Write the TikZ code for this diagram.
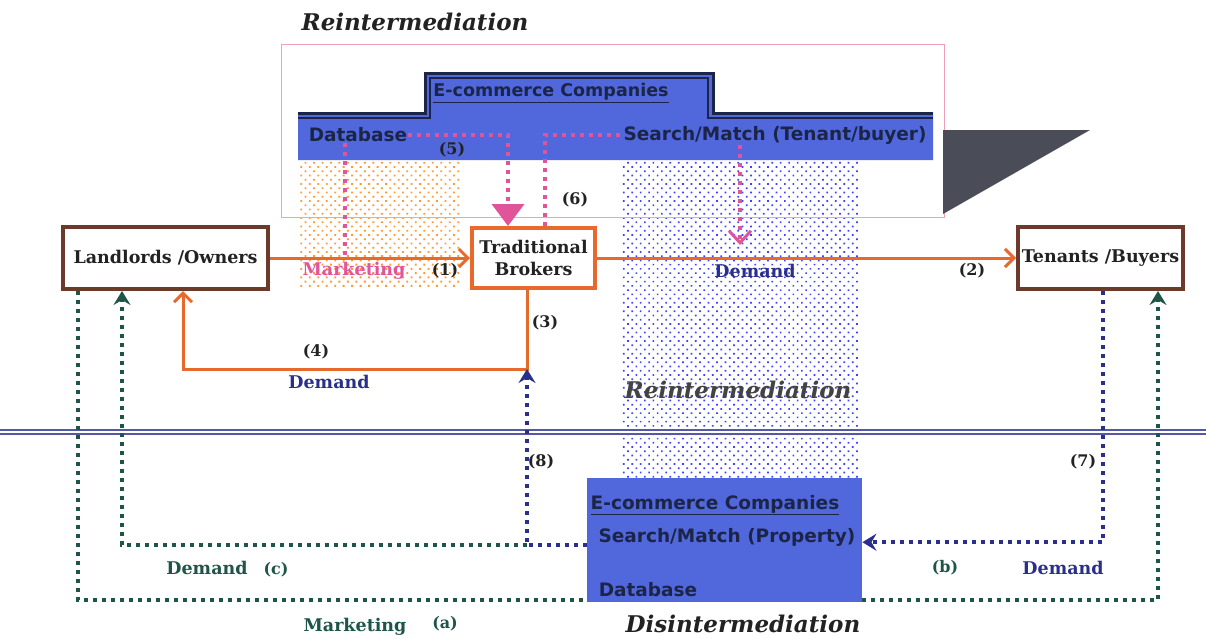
\documentclass[tikz,border=0pt]{standalone}
\usepackage{fontspec}
\setmainfont{DejaVu Serif}
\newfontfamily\ecfont{DejaVu Sans}
\usetikzlibrary{arrows.meta,patterns.meta}
\definecolor{orangeA}{HTML}{E8692C}
\definecolor{brownA}{HTML}{6B3A2A}
\definecolor{pinkA}{HTML}{E0559A}
\definecolor{navyA}{HTML}{2B2F8C}
\definecolor{greenA}{HTML}{1E5548}
\definecolor{blueA}{HTML}{5068DC}
\definecolor{darkA}{HTML}{1C2548}
\definecolor{shadowA}{HTML}{4A4D58}
\definecolor{pinkline}{HTML}{F4A0B4}
\definecolor{textA}{HTML}{222222}
\tikzset{
  box/.style={draw, line width=4pt, fill=white, align=center, inner sep=1pt,
    font=\fontsize{17.5}{22}\selectfont\bfseries, text=textA},
  lbl/.style={font=\fontsize{16}{18}\selectfont\bfseries, text=textA, inner sep=1pt},
  wlbl/.style={font=\fontsize{17.5}{19}\selectfont\bfseries, inner sep=1pt},
  eclbl/.style={font=\ecfont\fontsize{18.5}{20}\selectfont\bfseries, text=darkA, inner sep=1pt},
  ttl/.style={font=\fontsize{23}{26}\selectfont\bfseries\itshape, text=textA, inner sep=1pt},
  oline/.style={draw=orangeA, line width=3pt},
  otip/.style={-{Straight Barb[length=9pt,width=18pt,line width=3pt]}},
  pdot/.style={draw=pinkA, line width=4pt, dash pattern=on 4pt off 5pt},
  ndot/.style={draw=navyA, line width=4pt, dash pattern=on 4pt off 5pt},
  gdot/.style={draw=greenA, line width=4pt, dash pattern=on 4pt off 5pt},
  ntip/.style={-{Stealth[length=14pt,width=17pt,inset=5pt]}},
}
\begin{document}
\begin{tikzpicture}[x=1pt,y=-1pt]
\fill[white] (0,0) rectangle (1206,638);
\useasboundingbox (0,0) rectangle (1206,638);
% dotted regions
\fill[pattern={Dots[distance=6pt,radius=1.3pt,angle=45]}, pattern color=orange!80] (298,160) rectangle (461,287);
\fill[pattern={Dots[distance=6pt,radius=1.2pt,angle=45]}, pattern color=blue!75] (621,160) rectangle (860,478);
% pink frame and shadow
\draw[pinkline, line width=1pt] (281,44) rectangle (944,217);
\fill[shadowA] (943,130) -- (1090,130) -- (943,214) -- cycle;
% upper e-commerce shape
\fill[blueA] (298,113) -- (425,113) -- (425,73) -- (713,73) -- (713,113) -- (933,113) -- (933,160) -- (298,160) -- cycle;
\draw[darkA, line width=3pt] (298,113) -- (425,113) -- (425,73) -- (713,73) -- (713,113) -- (933,113);
\draw[darkA, line width=1.2pt] (298,118) -- (430,118) -- (430,78) -- (708,78) -- (708,118) -- (933,118);
\node[eclbl, font=\ecfont\fontsize{17.5}{20}\selectfont\bfseries] (ec1) at (551,93) {\underline{E-commerce Companies}};
\node[eclbl] (db1) at (358,135) {Database};
\node[eclbl] (sm1) at (775,135) {Search/Match (Tenant/buyer)};
% main boxes
\node[box, draw=brownA, minimum width=205pt, minimum height=62pt] (lo) at (165.5,258) {Landlords /Owners};
\node[box, draw=orangeA, minimum width=123pt, minimum height=60pt] (tb) at (533.5,258) {Traditional\\Brokers};
\node[box, draw=brownA, minimum width=165pt, minimum height=62pt] (tt) at (1100.5,258) {Tenants /Buyers};
% lower e-commerce box
\node[fill=blueA, minimum width=275pt, minimum height=124pt, anchor=north west, inner sep=0pt] (ecb) at (587,478) {};
\node[eclbl] (ec2) at (715,505) {\underline{E-commerce Companies}};
\node[eclbl] (sm2) at (727,537) {Search/Match (Property)};
\node[eclbl] (db2) at (648,590) {Database};
% double separator
\draw[navyA!80, line width=1.3pt] (0,430) -- (1206,430) (0,434) -- (1206,434);
% orange flows
\draw[oline, otip] (lo.east) -- (tb.west);
\draw[oline, otip] (tb.east) -- (tt.west);
\draw[oline, otip] ([xshift=-6.5pt]tb.south) -- ++(0,79) coordinate (c34) -| ([xshift=17.5pt]lo.south);
% pink dotted flows
\coordinate (m1) at (345,255);
\coordinate (m2) at (740,245);
\draw[pdot] ([xshift=-13pt]db1.south) -- (m1);
\draw[pdot, -{Triangle[length=22pt,width=32pt]}] (db1.east) -| ([xshift=-25.5pt]tb.north);
\draw[pdot] ([xshift=11.5pt]tb.north) |- (sm1.west);
\draw[pdot, -{Straight Barb[length=12pt,width=22pt,line width=3pt]}] ([xshift=-35pt]sm1.south) -- (m2);
% lower flows
\coordinate (c8) at (527,369);
\coordinate (j8) at (527,545);
\draw[ndot, ntip] ([yshift=-5pt]ecb.west) -| (c8);
\draw[gdot, ntip] (j8) -- (122,545) -- ([xshift=-43.5pt]lo.south);
\draw[gdot] ([xshift=-87.5pt]lo.south) |- ([yshift=-60pt]ecb.west);
\draw[gdot, ntip] ([yshift=-60pt]ecb.east) -| ([xshift=57.5pt]tt.south);
\draw[ndot, ntip] ([xshift=2.5pt]tt.south) |- ([yshift=-2pt]ecb.east);
% labels
\node[wlbl, text=pinkA] (l1) at (354,271) {Marketing};
\node[lbl] (n1) at (445,271) {(1)};
\node[wlbl, text=navyA] (l2) at (755,271) {Demand};
\node[lbl] (n2) at (972,271) {(2)};
\node[lbl] (n3) at (545,323) {(3)};
\node[lbl] (n4) at (316,352) {(4)};
\node[wlbl, text=navyA] (l4) at (329,382) {Demand};
\node[lbl] (n5) at (452,150) {(5)};
\node[lbl] (n6) at (575,200) {(6)};
\node[lbl] (n8) at (541,462) {(8)};
\node[lbl] (n7) at (1083,462) {(7)};
\node[wlbl, text=greenA] (lc) at (207,568) {Demand};
\node[lbl, text=greenA] (nc) at (276,570) {(c)};
\node[lbl, text=greenA] (nb) at (945,568) {(b)};
\node[wlbl, text=navyA] (lb) at (1063,568) {Demand};
\node[wlbl, text=greenA] (la) at (355,627) {Marketing};
\node[lbl, text=greenA] (na) at (445,624) {(a)};
\node[ttl] (t1) at (415,22) {Reintermediation};
\node[ttl, text=textA!85] (t2) at (738,390) {Reintermediation};
\node[ttl] (t3) at (743,624) {Disintermediation};
\end{tikzpicture}
\end{document}
